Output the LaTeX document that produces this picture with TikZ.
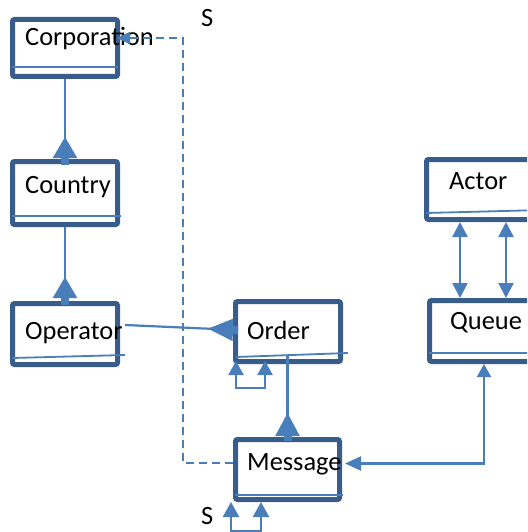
\documentclass[tikz,border=0pt]{standalone}
\usepackage{fontspec}
\setmainfont{Carlito}
\usetikzlibrary{arrows.meta}
\definecolor{boxedge}{RGB}{56,93,138}
\definecolor{linkblue}{RGB}{74,126,187}
\tikzset{
  classbox/.style={draw=boxedge, line width=5pt, rounded corners=2pt, fill=white,
    inner sep=0pt, outer sep=2.5pt},
  divider/.style={draw=linkblue, line width=1.8pt},
  lbl/.style={anchor=base west, inner sep=0pt, font=\fontsize{26.4}{30}\selectfont},
  link/.style={draw=linkblue, line width=2.2pt},
  dashlink/.style={draw=linkblue, line width=2pt, dash pattern=on 8pt off 5pt},
  bigtip/.tip={Triangle[reversed, length=21pt, width=24pt] Rectangle[length=7pt, width=8pt]},
  ordertip/.tip={Triangle[reversed, length=25pt, width=22pt] Rectangle[length=5pt, width=8pt]},
  msgtip/.tip={Triangle[reversed, length=23pt, width=24pt] Rectangle[length=5pt, width=8pt]},
  smalltip/.tip={Triangle[length=14pt, width=15pt]}
}
\begin{document}
\begin{tikzpicture}[x=1pt, y=-1pt]
\useasboundingbox (0,0) rectangle (527,532);
\clip (0,0) rectangle (527,532);

% class boxes
\node[classbox, minimum width=105pt, minimum height=57pt] (corp) at (65,48) {};
\node[classbox, minimum width=105pt, minimum height=63pt] (country) at (65,193) {};
\node[classbox, minimum width=105pt, minimum height=61pt] (operator) at (65,334) {};
\node[classbox, minimum width=105pt, minimum height=60pt] (order) at (288,331.5) {};
\node[classbox, minimum width=104pt, minimum height=60pt] (message) at (287.5,469.5) {};
\node[classbox, minimum width=133pt, minimum height=60pt] (actor) at (493,189.5) {};
\node[classbox, minimum width=129pt, minimum height=61pt] (queue) at (494,331) {};

% compartment dividers
\draw[divider] ([shift={(2,-12)}]corp.south west) -- ([shift={(-2,-12)}]corp.south east);
\draw[divider] ([shift={(2,-11)}]country.south west) -- ([shift={(1,-11)}]country.south east);
\draw[divider] ([shift={(2,-9)}]operator.south west) -- ([shift={(5,-12)}]operator.south east);
\draw[divider] ([shift={(3,-7)}]order.south west) -- ([shift={(5,-11)}]order.south east);
\draw[divider] ([shift={(2,-7)}]message.south west) -- ([shift={(1,-7)}]message.south east);
\draw[divider] ([shift={(2,-9)}]actor.south west) -- ([shift={(0,-12.5)}]actor.south east);
\draw[divider] ([shift={(2,-11)}]queue.south west) -- ([shift={(0,-11)}]queue.south east);

% class names
\node[lbl] (corp-name) at (25,46) {Corporation};
\node[lbl] (country-name) at (25,193) {Country};
\node[lbl] (operator-name) at (25,339) {Operator};
\node[lbl] (order-name) at (247,339) {Order};
\node[lbl] (message-name) at (247,470) {Message};
\node[lbl] (actor-name) at (449,189) {Actor};
\node[lbl] (queue-name) at (450,329) {Queue};
\node[lbl] (s-top) at (201,27) {S};
\node[lbl] (s-bottom) at (201,524) {S};

% associations
\draw[link, {bigtip}-] ([yshift=-6pt]country.north) -- (corp.south);
\draw[link, {bigtip}-] ([yshift=-4pt]operator.north) -- (country.south);
\draw[link, {ordertip}-]
  ([shift={(5,-1.5)}]order.west) -- ([shift={(5,-9)}]operator.east);
\draw[link, {smalltip}-{smalltip}]
  ([shift={(-23,-3)}]order.south) -- ++(0,27) -| ([shift={(-52,-3)}]order.south);
\draw[link, {msgtip}-]
  ([yshift=-4pt]message.north) -- ([shift={(-0.5,-9)}]order.south);
\draw[dashlink, -{Triangle[length=13pt, width=12pt]}]
  ([yshift=6.5pt]message.west) -- ++(-50,0) |- ([shift={(-3,-10)}]corp.east);
\draw[link, {Triangle[length=15pt, width=15pt]}-{Triangle[length=15pt, width=15pt]}]
  ([xshift=-33pt]actor.south) -- ([xshift=-34pt]queue.north);
\draw[link, {Triangle[length=15pt, width=15pt]}-{Triangle[length=15pt, width=15pt]}]
  ([xshift=13pt]actor.south) -- ([xshift=12pt]queue.north);
\draw[link, {Triangle[length=13pt, width=14pt]}-{Triangle[length=16pt, width=14pt]}]
  ([xshift=-10pt]queue.south) |- ([shift={(3,-6)}]message.east);
\draw[link, {Triangle[length=15pt, width=16pt]}-{Triangle[length=15pt, width=16pt]}]
  ([xshift=-26.5pt]message.south) -- ++(0,29) -| ([xshift=-56.5pt]message.south);
\end{tikzpicture}
\end{document}
